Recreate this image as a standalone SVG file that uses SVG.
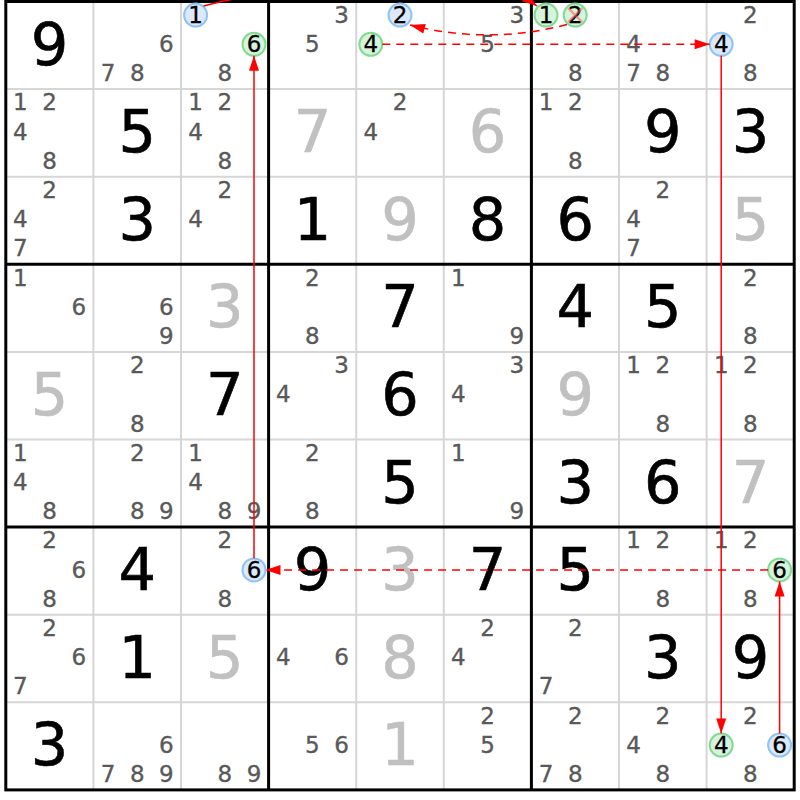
<svg xmlns="http://www.w3.org/2000/svg" width="800" height="800" viewBox="0 0 800 800">
<style>
text{font-family:"DejaVu Sans",Verdana,sans-serif;text-anchor:middle}
.k{font-size:23px;fill:#595959;stroke:#595959;stroke-width:0.35}
.kh{font-size:23px;fill:#000;stroke:#000;stroke-width:0.3}
.b{font-size:59px;fill:#000;stroke:#000;stroke-width:0.6}
.bs{font-size:59px;fill:#c0c0c0;stroke:#c0c0c0;stroke-width:0.6}
.thin{stroke:#d6d6d6;stroke-width:2}
.thick{stroke:#000;stroke-width:3}
.hb{fill:#dbe9fb;stroke:#91c3f3;stroke-width:2}
.hg{fill:#d6f4dc;stroke:#84d993;stroke-width:2}
.x{stroke:#ff5a5a;stroke-opacity:0.55;stroke-width:2.5;fill:none}
.ln{fill:none;stroke:#f00;stroke-width:1.5;marker-end:url(#ah)}
.d{stroke-dasharray:8 6}
</style>
<defs>
<marker id="ah" markerUnits="userSpaceOnUse" markerWidth="15" markerHeight="10" refX="15" refY="5" orient="auto" overflow="visible"><path d="M0,0 L15,5 L0,10 z" fill="#f00"/></marker>
</defs>
<rect x="0" y="0" width="800" height="800" fill="#fff"/>
<g id="grid">
<path class="thin" d="M93.4 1.5V789.9M181 1.5V789.9M356.2 1.5V789.9M443.8 1.5V789.9M619 1.5V789.9M706.6 1.5V789.9M5.8 89.1H794.2M5.8 176.7H794.2M5.8 351.9H794.2M5.8 439.5H794.2M5.8 614.7H794.2M5.8 702.3H794.2"/>
<path class="thick" d="M268.6 1.5V789.9M531.4 1.5V789.9M5.8 264.3H794.2M5.8 527.1H794.2"/>
<rect class="thick" x="5.8" y="1.5" width="788.4" height="788.4" fill="none"/>
</g>
<g id="r0c0"><text class="b" x="49.6" y="64.5">9</text></g>
<g id="r0c1"><text class="k" x="166.4" y="52">6</text><text class="k" x="108" y="81.2">7</text><text class="k" x="137.2" y="81.2">8</text></g>
<g id="r0c2"><circle class="hb" cx="195.6" cy="15.1" r="11.5"/><circle class="hg" cx="254" cy="44.3" r="11.5"/><text class="kh" x="195.6" y="22.8">1</text><text class="kh" x="254" y="52">6</text><text class="k" x="224.8" y="81.2">8</text></g>
<g id="r0c3"><text class="k" x="341.6" y="22.8">3</text><text class="k" x="312.4" y="52">5</text></g>
<g id="r0c4"><circle class="hb" cx="400" cy="15.1" r="11.5"/><circle class="hg" cx="370.8" cy="44.3" r="11.5"/><text class="kh" x="400" y="22.8">2</text><text class="kh" x="370.8" y="52">4</text></g>
<g id="r0c5"><text class="k" x="516.8" y="22.8">3</text><text class="k" x="487.6" y="52">5</text></g>
<g id="r0c6"><circle class="hg" cx="546" cy="15.1" r="11.5"/><circle class="hg" cx="575.2" cy="15.1" r="11.5"/><text class="kh" x="546" y="22.8">1</text><text class="kh" x="575.2" y="22.8">2</text><text class="k" x="575.2" y="81.2">8</text><path class="x" d="M568.2 8.1L582.2 22.1M582.2 8.1L568.2 22.1"/></g>
<g id="r0c7"><text class="k" x="633.6" y="52">4</text><text class="k" x="633.6" y="81.2">7</text><text class="k" x="662.8" y="81.2">8</text></g>
<g id="r0c8"><circle class="hb" cx="721.2" cy="44.3" r="11.5"/><text class="k" x="750.4" y="22.8">2</text><text class="kh" x="721.2" y="52">4</text><text class="k" x="750.4" y="81.2">8</text></g>
<g id="r1c0"><text class="k" x="20.4" y="110.4">1</text><text class="k" x="49.6" y="110.4">2</text><text class="k" x="20.4" y="139.6">4</text><text class="k" x="49.6" y="168.8">8</text></g>
<g id="r1c1"><text class="b" x="137.2" y="152.1">5</text></g>
<g id="r1c2"><text class="k" x="195.6" y="110.4">1</text><text class="k" x="224.8" y="110.4">2</text><text class="k" x="195.6" y="139.6">4</text><text class="k" x="224.8" y="168.8">8</text></g>
<g id="r1c3"><text class="bs" x="312.4" y="152.1">7</text></g>
<g id="r1c4"><text class="k" x="400" y="110.4">2</text><text class="k" x="370.8" y="139.6">4</text></g>
<g id="r1c5"><text class="bs" x="487.6" y="152.1">6</text></g>
<g id="r1c6"><text class="k" x="546" y="110.4">1</text><text class="k" x="575.2" y="110.4">2</text><text class="k" x="575.2" y="168.8">8</text></g>
<g id="r1c7"><text class="b" x="662.8" y="152.1">9</text></g>
<g id="r1c8"><text class="b" x="750.4" y="152.1">3</text></g>
<g id="r2c0"><text class="k" x="49.6" y="198">2</text><text class="k" x="20.4" y="227.2">4</text><text class="k" x="20.4" y="256.4">7</text></g>
<g id="r2c1"><text class="b" x="137.2" y="239.7">3</text></g>
<g id="r2c2"><text class="k" x="224.8" y="198">2</text><text class="k" x="195.6" y="227.2">4</text></g>
<g id="r2c3"><text class="b" x="312.4" y="239.7">1</text></g>
<g id="r2c4"><text class="bs" x="400" y="239.7">9</text></g>
<g id="r2c5"><text class="b" x="487.6" y="239.7">8</text></g>
<g id="r2c6"><text class="b" x="575.2" y="239.7">6</text></g>
<g id="r2c7"><text class="k" x="662.8" y="198">2</text><text class="k" x="633.6" y="227.2">4</text><text class="k" x="633.6" y="256.4">7</text></g>
<g id="r2c8"><text class="bs" x="750.4" y="239.7">5</text></g>
<g id="r3c0"><text class="k" x="20.4" y="285.6">1</text><text class="k" x="78.8" y="314.8">6</text></g>
<g id="r3c1"><text class="k" x="166.4" y="314.8">6</text><text class="k" x="166.4" y="344">9</text></g>
<g id="r3c2"><text class="bs" x="224.8" y="327.3">3</text></g>
<g id="r3c3"><text class="k" x="312.4" y="285.6">2</text><text class="k" x="312.4" y="344">8</text></g>
<g id="r3c4"><text class="b" x="400" y="327.3">7</text></g>
<g id="r3c5"><text class="k" x="458.4" y="285.6">1</text><text class="k" x="516.8" y="344">9</text></g>
<g id="r3c6"><text class="b" x="575.2" y="327.3">4</text></g>
<g id="r3c7"><text class="b" x="662.8" y="327.3">5</text></g>
<g id="r3c8"><text class="k" x="750.4" y="285.6">2</text><text class="k" x="750.4" y="344">8</text></g>
<g id="r4c0"><text class="bs" x="49.6" y="414.9">5</text></g>
<g id="r4c1"><text class="k" x="137.2" y="373.2">2</text><text class="k" x="137.2" y="431.6">8</text></g>
<g id="r4c2"><text class="b" x="224.8" y="414.9">7</text></g>
<g id="r4c3"><text class="k" x="341.6" y="373.2">3</text><text class="k" x="283.2" y="402.4">4</text></g>
<g id="r4c4"><text class="b" x="400" y="414.9">6</text></g>
<g id="r4c5"><text class="k" x="516.8" y="373.2">3</text><text class="k" x="458.4" y="402.4">4</text></g>
<g id="r4c6"><text class="bs" x="575.2" y="414.9">9</text></g>
<g id="r4c7"><text class="k" x="633.6" y="373.2">1</text><text class="k" x="662.8" y="373.2">2</text><text class="k" x="662.8" y="431.6">8</text></g>
<g id="r4c8"><text class="k" x="721.2" y="373.2">1</text><text class="k" x="750.4" y="373.2">2</text><text class="k" x="750.4" y="431.6">8</text></g>
<g id="r5c0"><text class="k" x="20.4" y="460.8">1</text><text class="k" x="20.4" y="490">4</text><text class="k" x="49.6" y="519.2">8</text></g>
<g id="r5c1"><text class="k" x="137.2" y="460.8">2</text><text class="k" x="137.2" y="519.2">8</text><text class="k" x="166.4" y="519.2">9</text></g>
<g id="r5c2"><text class="k" x="195.6" y="460.8">1</text><text class="k" x="195.6" y="490">4</text><text class="k" x="224.8" y="519.2">8</text><text class="k" x="254" y="519.2">9</text></g>
<g id="r5c3"><text class="k" x="312.4" y="460.8">2</text><text class="k" x="312.4" y="519.2">8</text></g>
<g id="r5c4"><text class="b" x="400" y="502.5">5</text></g>
<g id="r5c5"><text class="k" x="458.4" y="460.8">1</text><text class="k" x="516.8" y="519.2">9</text></g>
<g id="r5c6"><text class="b" x="575.2" y="502.5">3</text></g>
<g id="r5c7"><text class="b" x="662.8" y="502.5">6</text></g>
<g id="r5c8"><text class="bs" x="750.4" y="502.5">7</text></g>
<g id="r6c0"><text class="k" x="49.6" y="548.4">2</text><text class="k" x="78.8" y="577.6">6</text><text class="k" x="49.6" y="606.8">8</text></g>
<g id="r6c1"><text class="b" x="137.2" y="590.1">4</text></g>
<g id="r6c2"><circle class="hb" cx="254" cy="569.9" r="11.5"/><text class="k" x="224.8" y="548.4">2</text><text class="kh" x="254" y="577.6">6</text><text class="k" x="224.8" y="606.8">8</text></g>
<g id="r6c3"><text class="b" x="312.4" y="590.1">9</text></g>
<g id="r6c4"><text class="bs" x="400" y="590.1">3</text></g>
<g id="r6c5"><text class="b" x="487.6" y="590.1">7</text></g>
<g id="r6c6"><text class="b" x="575.2" y="590.1">5</text></g>
<g id="r6c7"><text class="k" x="633.6" y="548.4">1</text><text class="k" x="662.8" y="548.4">2</text><text class="k" x="662.8" y="606.8">8</text></g>
<g id="r6c8"><circle class="hg" cx="779.6" cy="569.9" r="11.5"/><text class="k" x="721.2" y="548.4">1</text><text class="k" x="750.4" y="548.4">2</text><text class="kh" x="779.6" y="577.6">6</text><text class="k" x="750.4" y="606.8">8</text></g>
<g id="r7c0"><text class="k" x="49.6" y="636">2</text><text class="k" x="78.8" y="665.2">6</text><text class="k" x="20.4" y="694.4">7</text></g>
<g id="r7c1"><text class="b" x="137.2" y="677.7">1</text></g>
<g id="r7c2"><text class="bs" x="224.8" y="677.7">5</text></g>
<g id="r7c3"><text class="k" x="283.2" y="665.2">4</text><text class="k" x="341.6" y="665.2">6</text></g>
<g id="r7c4"><text class="bs" x="400" y="677.7">8</text></g>
<g id="r7c5"><text class="k" x="487.6" y="636">2</text><text class="k" x="458.4" y="665.2">4</text></g>
<g id="r7c6"><text class="k" x="575.2" y="636">2</text><text class="k" x="546" y="694.4">7</text></g>
<g id="r7c7"><text class="b" x="662.8" y="677.7">3</text></g>
<g id="r7c8"><text class="b" x="750.4" y="677.7">9</text></g>
<g id="r8c0"><text class="b" x="49.6" y="765.3">3</text></g>
<g id="r8c1"><text class="k" x="166.4" y="752.8">6</text><text class="k" x="108" y="782">7</text><text class="k" x="137.2" y="782">8</text><text class="k" x="166.4" y="782">9</text></g>
<g id="r8c2"><text class="k" x="224.8" y="782">8</text><text class="k" x="254" y="782">9</text></g>
<g id="r8c3"><text class="k" x="312.4" y="752.8">5</text><text class="k" x="341.6" y="752.8">6</text></g>
<g id="r8c4"><text class="bs" x="400" y="765.3">1</text></g>
<g id="r8c5"><text class="k" x="487.6" y="723.6">2</text><text class="k" x="487.6" y="752.8">5</text></g>
<g id="r8c6"><text class="k" x="575.2" y="723.6">2</text><text class="k" x="546" y="782">7</text><text class="k" x="575.2" y="782">8</text></g>
<g id="r8c7"><text class="k" x="662.8" y="723.6">2</text><text class="k" x="633.6" y="752.8">4</text><text class="k" x="662.8" y="782">8</text></g>
<g id="r8c8"><circle class="hg" cx="721.2" cy="745.1" r="11.5"/><circle class="hb" cx="779.6" cy="745.1" r="11.5"/><text class="k" x="750.4" y="723.6">2</text><text class="kh" x="721.2" y="752.8">4</text><text class="kh" x="779.6" y="752.8">6</text><text class="k" x="750.4" y="782">8</text></g>
<g id="connectors">
<path class="ln d" d="M382.3 44.3H709.7"/>
<path class="ln" d="M721.2 55.8V733.6"/>
<path class="ln" d="M779.6 733.6V581.4"/>
<path class="ln d" d="M768.1 569.9H265.5"/>
<path class="ln" d="M254 558.4V55.8"/>
<path class="ln" d="M203.5 6C302 -20 488 -29 537 6"/>
<path class="ln d" d="M567 24.5Q488 45 410 25"/>
</g>
</svg>
